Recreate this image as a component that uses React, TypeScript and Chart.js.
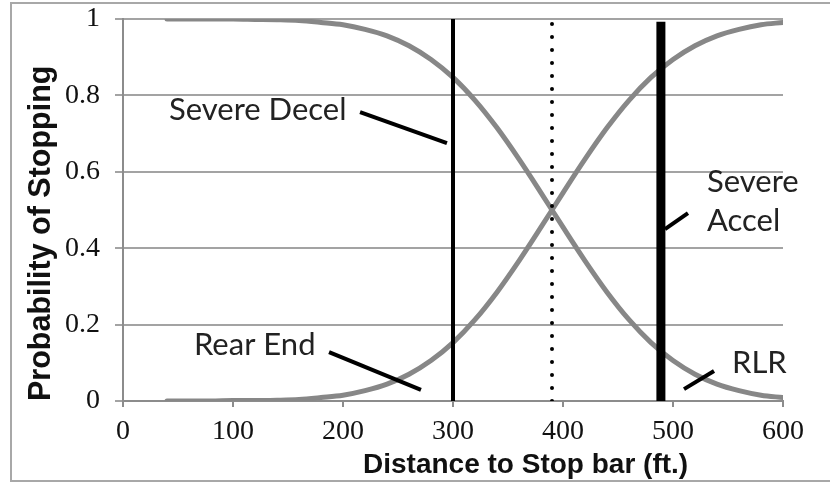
import React, { useEffect, useRef } from "react";
import { Chart, registerables } from "chart.js";

Chart.register(...registerables);

// Distance to stop bar (ft.)
const distances = [40, 60, 80, 100, 120, 140, 160, 180, 200, 220, 240, 260, 280, 300, 320, 340, 360, 380, 400, 420, 440, 460, 480, 500, 520, 540, 560, 580, 600];
// Decreasing curve (Severe Decel / RLR)
const decelProb = [1.0, 1.0, 1.0, 1.0, 0.999, 0.998, 0.996, 0.991, 0.985, 0.973, 0.956, 0.93, 0.894, 0.847, 0.787, 0.715, 0.633, 0.545, 0.455, 0.367, 0.285, 0.213, 0.153, 0.106, 0.07, 0.044, 0.027, 0.015, 0.009];
// Increasing curve (Rear End / Severe Accel)
const accelProb = [0.0, 0.0, 0.0, 0.001, 0.001, 0.002, 0.004, 0.009, 0.015, 0.027, 0.044, 0.07, 0.106, 0.153, 0.213, 0.285, 0.367, 0.455, 0.545, 0.633, 0.715, 0.787, 0.847, 0.894, 0.93, 0.956, 0.973, 0.985, 0.991];

// Vertical reference lines
const solidLineX = 300;
const dottedLineX = 390;
const thickLineX = 489;
const thickLineTop = 0.993;

const xTickValues = [0, 100, 200, 300, 400, 500, 600];
const yTickLabels = ["0", "0.2", "0.4", "0.6", "0.8", "1"];

const xTitle = "Distance to Stop bar (ft.)";
const yTitle = "Probability of Stopping";

// Annotation labels (data coordinates, text baseline)
const labelTexts = ["Severe Decel", "Rear End", "Severe", "Accel", "RLR"];
const labelX = [41.8, 64.5, 530.9, 530.9, 553.6];
const labelY = [0.7356, 0.12, 0.547, 0.445, 0.073];

// Leader lines (data coordinates)
const leaderX1 = [215.5, 187.3, 513.6, 510];
const leaderY1 = [0.7565, 0.128, 0.492, 0.031];
const leaderX2 = [294.5, 270.9, 492.7, 537.3];
const leaderY2 = [0.675, 0.029, 0.45, 0.0785];

const annotationPlugin = {
  id: "annotations",
  afterDraw(chart: any) {
    const { ctx, scales, chartArea } = chart;
    const xs = scales.x;
    const ys = scales.y;
    ctx.save();
    ctx.strokeStyle = "#000";
    ctx.lineWidth = 4;
    ctx.lineCap = "butt";
    for (let i = 0; i < leaderX1.length; i++) {
      ctx.beginPath();
      ctx.moveTo(xs.getPixelForValue(leaderX1[i]), ys.getPixelForValue(leaderY1[i]));
      ctx.lineTo(xs.getPixelForValue(leaderX2[i]), ys.getPixelForValue(leaderY2[i]));
      ctx.stroke();
    }
    ctx.fillStyle = "#222";
    ctx.font = "31px Lato";
    ctx.textAlign = "left";
    ctx.textBaseline = "alphabetic";
    for (let i = 0; i < labelTexts.length; i++) {
      ctx.fillText(labelTexts[i], xs.getPixelForValue(labelX[i]), ys.getPixelForValue(labelY[i]));
    }
    // x-axis title
    ctx.font = "bold 28px 'Liberation Sans'";
    ctx.fillStyle = "#111";
    ctx.textAlign = "center";
    ctx.fillText(xTitle, xs.getPixelForValue(366), chartArea.bottom + 72);
    ctx.restore();
  },
};

export default function App() {
  const ref = useRef<HTMLCanvasElement | null>(null);

  useEffect(() => {
    if (!ref.current) return;
    const curveColor = "#878787";
    const chart = new Chart(ref.current, {
      type: "line",
      data: {
        datasets: [
          {
            label: "Stop line",
            data: [{ x: solidLineX, y: 0 }, { x: solidLineX, y: 1 }],
            borderColor: "#000",
            borderWidth: 4,
            pointRadius: 0,
            order: 1,
          },
          {
            label: "Crossing",
            data: [{ x: dottedLineX, y: 0 }, { x: dottedLineX, y: 1 }],
            borderColor: "#000",
            borderWidth: 4,
            borderDash: [0, 13],
            borderCapStyle: "round",
            pointRadius: 0,
            order: 1,
          },
          {
            label: "Decision",
            data: [{ x: thickLineX, y: 0 }, { x: thickLineX, y: thickLineTop }],
            borderColor: "#000",
            borderWidth: 9,
            pointRadius: 0,
            order: 1,
          },
          {
            label: "Severe Decel / RLR",
            data: distances.map((d, i) => ({ x: d, y: decelProb[i] })),
            borderColor: curveColor,
            borderWidth: 5,
            borderCapStyle: "round",
            pointRadius: 0,
            cubicInterpolationMode: "monotone",
            order: 2,
          },
          {
            label: "Rear End / Severe Accel",
            data: distances.map((d, i) => ({ x: d, y: accelProb[i] })),
            borderColor: curveColor,
            borderWidth: 5,
            borderCapStyle: "round",
            pointRadius: 0,
            cubicInterpolationMode: "monotone",
            order: 2,
          },
        ],
      },
      options: {
        animation: false,
        responsive: false,
        devicePixelRatio: 1,
        layout: { padding: { left: 0, top: 19, right: 47, bottom: 0 } },
        plugins: { legend: { display: false }, tooltip: { enabled: false } },
        scales: {
          x: {
            type: "linear",
            min: 0,
            max: 600,
            afterBuildTicks: (s: any) => {
              s.ticks = xTickValues.map((v) => ({ value: v }));
            },
            ticks: {
              color: "#111",
              font: { family: "'Liberation Serif'", size: 28 },
              padding: 8,
              maxRotation: 0,
              callback: (v: any) => String(v),
            },
            grid: { drawOnChartArea: false, drawTicks: true, tickLength: 6, color: "#8c8c8c", lineWidth: 2 },
            border: { color: "#8c8c8c", width: 2 },
            afterFit: (s: any) => {
              s.height = 83;
              s.paddingLeft = 0;
              s.paddingRight = 0;
            },
          },
          y: {
            type: "linear",
            min: 0,
            max: 1,
            ticks: {
              stepSize: 0.2,
              color: "#111",
              font: { family: "'Liberation Serif'", size: 28 },
              padding: 15,
              callback: (_v: any, i: number) => yTickLabels[i],
            },
            grid: { color: "#a3a3a3", lineWidth: 2, tickLength: 8 },
            border: { color: "#8c8c8c", width: 2 },
            title: {
              display: true,
              text: yTitle,
              color: "#111",
              align: "start",
              font: { family: "'Liberation Sans'", weight: "bold", size: 30.5 },
              padding: { top: 23, bottom: 0 },
            },
            afterFit: (s: any) => {
              s.width = 123;
              s.paddingTop = 0;
              s.paddingBottom = 0;
            },
          },
        },
      },
      plugins: [annotationPlugin],
    } as any);
    return () => chart.destroy();
  }, []);

  return (
    <div style={{ position: "absolute", left: 0, top: 0, width: 830, height: 484, overflow: "hidden", background: "#fff" }}>
      <div
        style={{
          position: "absolute",
          left: 10,
          top: 2,
          width: 840,
          height: 476,
          border: "2px solid #a8a8a8",
          borderRight: "none",
        }}
      />
      <canvas ref={ref} width={830} height={484} style={{ position: "absolute", left: 0, top: 0 }} />
    </div>
  );
}
